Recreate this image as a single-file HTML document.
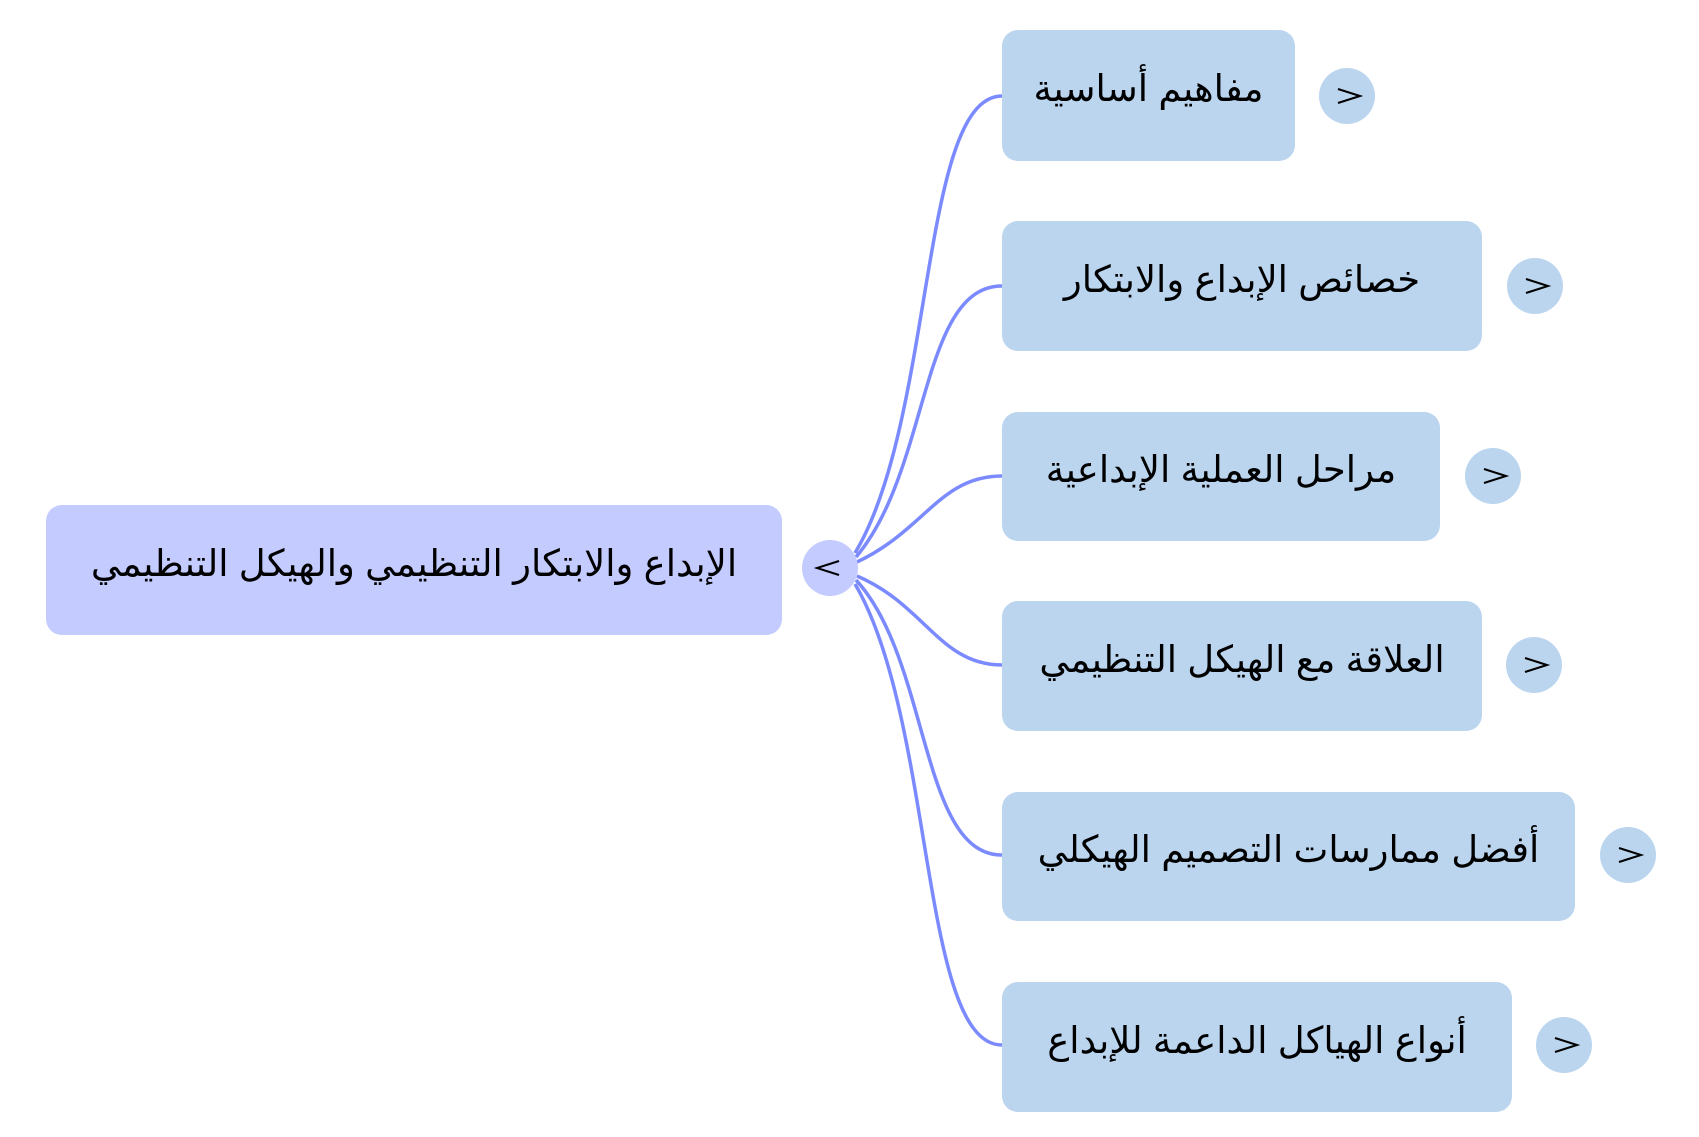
<!DOCTYPE html>
<html><head><meta charset="utf-8"><style>
html,body{margin:0;padding:0;background:#fff;}
body{width:1699px;height:1137px;position:relative;overflow:hidden;font-family:"Liberation Sans","DejaVu Sans",sans-serif;}
.b{position:absolute;border-radius:16px;display:flex;align-items:center;justify-content:center;font-size:37px;color:#000;direction:rtl;box-sizing:border-box;padding-bottom:14px;white-space:nowrap;}
.c{background:#bbd5ef;}
.t{position:absolute;width:56px;height:56px;border-radius:50%;background:#bbd5ef;}
.t svg{position:absolute;left:0;top:0;}
</style></head><body>
<svg width="1699" height="1137" style="position:absolute;left:0;top:0">
<g fill="none" stroke="#7b8aff" stroke-width="3.5">
<path d="M855,553 C935,420 920,96 1002,96"/>
<path d="M856,557 C930,470 920,286 1002,286"/>
<path d="M857,562 C925,530 940,476 1002,476"/>
<path d="M857,576 C925,605 940,665 1002,665"/>
<path d="M856,580 C930,660 920,855 1002,855"/>
<path d="M855,584 C935,720 920,1045 1002,1045"/>
</g>
</svg>
<div class="b" style="left:46px;top:505px;width:736px;height:130px;background:#c3cbff;">الإبداع والابتكار التنظيمي والهيكل التنظيمي</div>
<div class="t" style="left:802px;top:540px;background:#c3cbff;"><svg width="56" height="56"><polyline points="37,21 15,28 37,35" fill="none" stroke="#000" stroke-width="2"/></svg></div>
<div class="b c" style="left:1002px;top:30px;width:293px;height:131px;">مفاهيم أساسية</div>
<div class="t" style="left:1319px;top:68px;"><svg width="56" height="56"><polyline points="19,21 41,28 19,35" fill="none" stroke="#000" stroke-width="2"/></svg></div>
<div class="b c" style="left:1002px;top:221px;width:480px;height:130px;">خصائص الإبداع والابتكار</div>
<div class="t" style="left:1507px;top:258px;"><svg width="56" height="56"><polyline points="19,21 41,28 19,35" fill="none" stroke="#000" stroke-width="2"/></svg></div>
<div class="b c" style="left:1002px;top:412px;width:438px;height:129px;">مراحل العملية الإبداعية</div>
<div class="t" style="left:1465px;top:448px;"><svg width="56" height="56"><polyline points="19,21 41,28 19,35" fill="none" stroke="#000" stroke-width="2"/></svg></div>
<div class="b c" style="left:1002px;top:601px;width:480px;height:130px;">العلاقة مع الهيكل التنظيمي</div>
<div class="t" style="left:1506px;top:637px;"><svg width="56" height="56"><polyline points="19,21 41,28 19,35" fill="none" stroke="#000" stroke-width="2"/></svg></div>
<div class="b c" style="left:1002px;top:792px;width:573px;height:129px;">أفضل ممارسات التصميم الهيكلي</div>
<div class="t" style="left:1600px;top:827px;"><svg width="56" height="56"><polyline points="19,21 41,28 19,35" fill="none" stroke="#000" stroke-width="2"/></svg></div>
<div class="b c" style="left:1002px;top:982px;width:510px;height:130px;">أنواع الهياكل الداعمة للإبداع</div>
<div class="t" style="left:1536px;top:1017px;"><svg width="56" height="56"><polyline points="19,21 41,28 19,35" fill="none" stroke="#000" stroke-width="2"/></svg></div>
</body></html>
